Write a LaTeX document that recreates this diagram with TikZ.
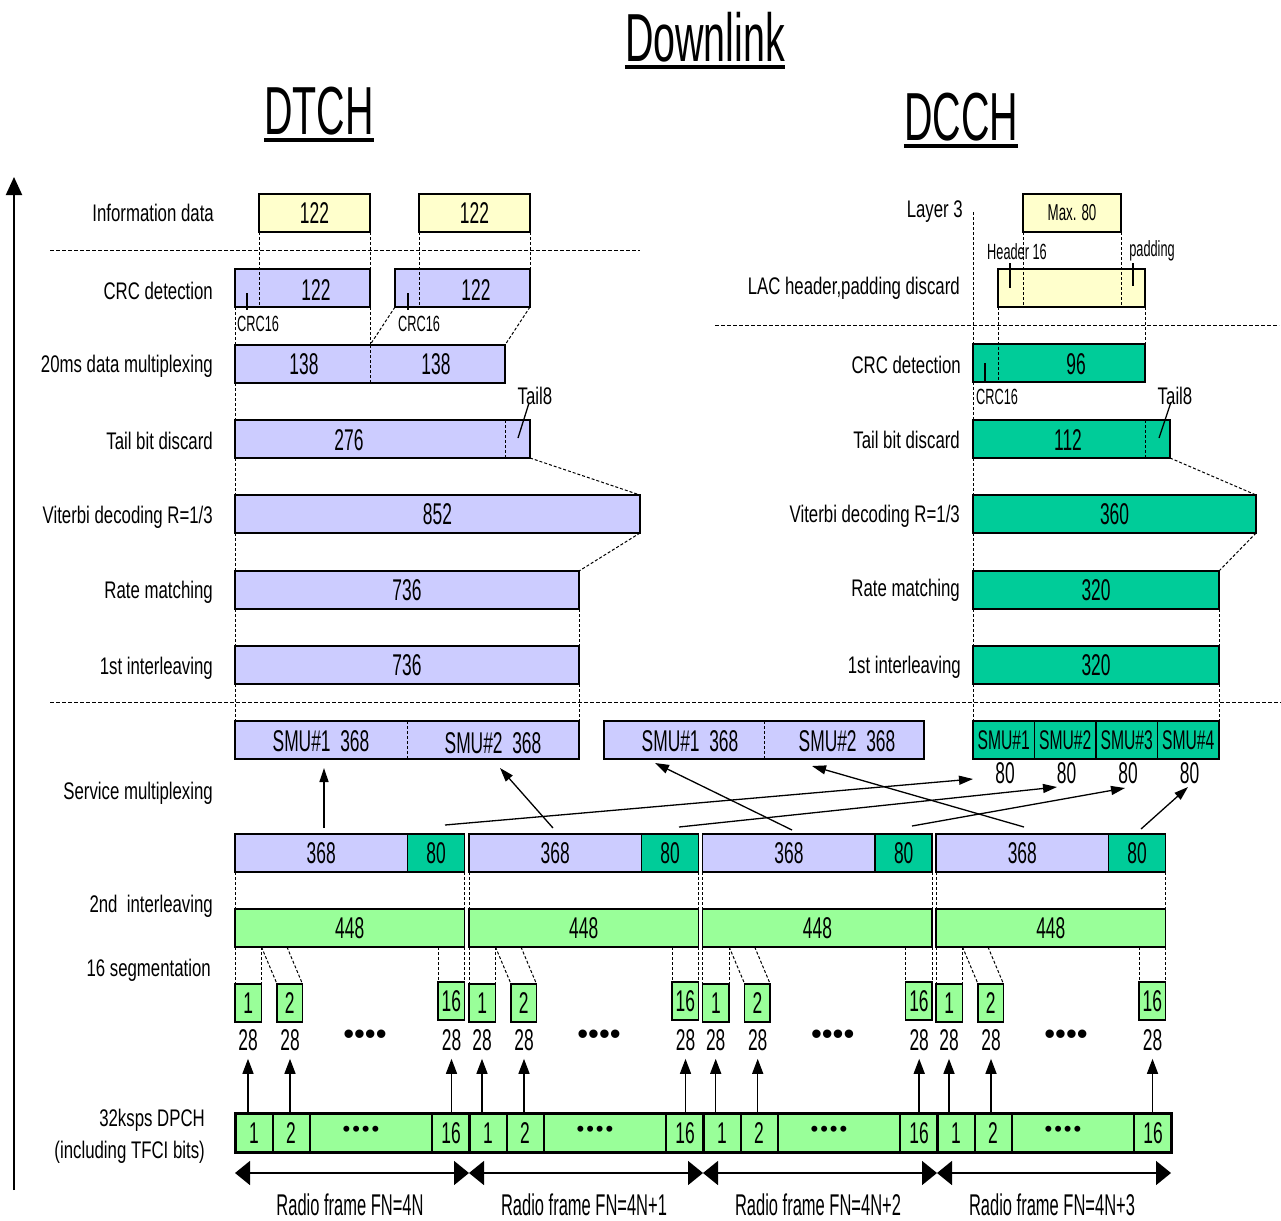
\documentclass[tikz,border=0pt]{standalone}
\usepackage{fontspec}
\setmainfont[FakeStretch=0.7]{Liberation Sans}
\newfontfamily\numfont[FakeStretch=0.58]{Liberation Sans}
\newfontfamily\rffont[FakeStretch=0.55]{Liberation Sans}
\newfontfamily\plainfont{Liberation Sans}
\usetikzlibrary{arrows.meta}
\definecolor{lav}{HTML}{CCCCFF}
\definecolor{ylw}{HTML}{FFFFCC}
\definecolor{tealc}{HTML}{00CC99}
\definecolor{lgrn}{HTML}{99FF99}
\tikzset{
 bx/.style={draw, line width=1.5pt, inner sep=0pt, outer sep=0pt, anchor=north west, minimum height=38pt, font=\numfont\fontsize{30}{30}\selectfont},
 lavbox/.style={bx, fill=lav},
 ylwbox/.style={bx, fill=ylw},
 tealbox/.style={bx, fill=tealc},
 grnbox/.style={bx, fill=lgrn},
 dpbox/.style={draw, line width=3pt, fill=lgrn, inner sep=0pt, outer sep=0pt, anchor=north west, minimum height=39pt, minimum width=234pt},
 lbl/.style={anchor=east, inner sep=0pt, font=\fontsize{24}{26}\selectfont},
 num/.style={inner sep=0pt, font=\numfont\fontsize{30}{30}\selectfont},
 smallt/.style={inner sep=0pt, font=\numfont\fontsize{22}{24}\selectfont},
 guide/.style={line width=1pt, dash pattern=on 3pt off 2pt},
 sepline/.style={line width=1pt, dash pattern=on 3.5pt off 2.5pt},
 ttl/.style={inner sep=0pt, anchor=base, font=\numfont\fontsize{68}{70}\selectfont},
 arr/.style={line width=1.3pt, -{Triangle[length=14pt,width=9pt]}},
 uparr/.style={line width=1.5pt, -{Triangle[length=15pt,width=11pt]}},
 rfarr/.style={line width=1.5pt, {Triangle[length=15pt,width=24pt]}-{Triangle[length=15pt,width=24pt]}},
 tick/.style={line width=1.3pt},
}
\begin{document}
\begin{tikzpicture}[x=1pt,y=-1pt]
\useasboundingbox[fill=white] (0,0) rectangle (1281,1220);

% ---------- titles ----------
\node[ttl] (dl) at (705,62) {Downlink};
\draw[line width=4pt] ([yshift=-5pt]dl.base west) -- ([yshift=-5pt]dl.base east);
\node[ttl] (dtch) at (319,134) {DTCH};
\draw[line width=4pt] ([yshift=-6pt]dtch.base west) -- ([yshift=-6pt]dtch.base east);
\node[ttl] (dcch) at (961,140) {DCCH};
\draw[line width=4pt] ([yshift=-6pt]dcch.base west) -- ([yshift=-6pt]dcch.base east);

% ---------- main axis ----------
\coordinate (axb) at (14,1190);
\coordinate (axt) at (14,177);
\draw[line width=2pt, -{Triangle[length=18pt,width=16pt]}] (axb) -- (axt);

% ---------- separators ----------
\draw[sepline] (50,250) -- (640,250);
\draw[sepline] (715,325) -- (1279,325);
\draw[sepline] (50,702) -- (1281,702);

% ---------- left labels ----------
\node[lbl] at (214,213) {Information data};
\node[lbl] at (213,291) {CRC detection};
\node[lbl] at (213,366) {20ms data multiplexing};
\node[lbl] at (213,441) {Tail bit discard};
\node[lbl] at (213,517) {Viterbi decoding R=1/3};
\node[lbl] at (213,592) {Rate matching};
\node[lbl] at (213,668) {1st interleaving};
\node[lbl] at (213,793) {Service multiplexing};
\node[lbl] at (213,906) {2nd\ \ interleaving};
\node[lbl] at (211,970) {16 segmentation};
\node[lbl] at (205,1120) {32ksps DPCH};
\node[lbl] at (205,1152) {(including TFCI bits)};

% ---------- right labels ----------
\node[lbl] at (963,212) {Layer 3};
\node[lbl] at (960,288) {LAC header,padding discard};
\node[lbl] at (961,365) {CRC detection};
\node[lbl] at (960,440) {Tail bit discard};
\node[lbl] at (960,516) {Viterbi decoding R=1/3};
\node[lbl] at (960,590) {Rate matching};
\node[lbl] at (961,667) {1st interleaving};

% ================= DTCH =================
\node[ylwbox, minimum width=111pt] (inf1) at (259,194) {122};
\node[ylwbox, minimum width=111pt] (inf2) at (419,194) {122};

\node[lavbox, minimum width=135pt] (crc1) at (235,269) {};
\node[num] at (316,290) {122};
\node[lavbox, minimum width=135pt] (crc2) at (395,269) {};
\node[num] at (476,290) {122};
\draw[guide] (inf1.south west) -- (inf1.south west |- crc1.south);
\draw[guide] (inf1.south east) -- (inf1.south east |- crc1.north);
\draw[guide] (inf2.south west) -- (inf2.south west |- crc2.south);
\draw[guide] (inf2.south east) -- (inf2.south east |- crc2.north);
\draw[tick] (247,293) -- (247,310);
\draw[tick] (408,293) -- (408,310);
\node[smallt, anchor=north west] at (237,316) {CRC16};
\node[smallt, anchor=north west] at (398,316) {CRC16};

\node[lavbox, minimum width=270pt] (mux) at (235,345) {};
\node[num] at (304,364) {138};
\node[num] at (436,364) {138};
\draw[guide] (370,345) -- (370,383);
\draw[guide] (crc1.south west) -- (mux.north west);
\draw[guide] (crc1.south east) -- (crc1.south east |- mux.north);
\draw[guide] (crc2.south west) -- (crc1.south east |- mux.north);
\draw[guide] (crc2.south east) -- (mux.north east);

\node[lavbox, minimum width=295pt] (tail) at (235,420) {};
\node[num] at (349,440) {276};
\draw[guide] (505,420) -- (505,458);
\draw[guide] (mux.south west) -- (tail.north west);
\node[inner sep=0pt, font=\fontsize{24}{26}\selectfont] at (535,396) {Tail8};
\draw[tick] (529,403) -- (518,438);

\node[lavbox, minimum width=405pt] (vit) at (235,495) {852};
\draw[guide] (tail.south west) -- (vit.north west);
\draw[guide] (tail.south east) -- (vit.north east);

\node[lavbox, minimum width=344pt] (rm) at (235,571) {736};
\draw[guide] (vit.south west) -- (rm.north west);
\draw[guide] (vit.south east) -- (rm.north east);

\node[lavbox, minimum width=344pt] (il) at (235,646) {736};
\draw[guide] (rm.south west) -- (il.north west);
\draw[guide] (rm.south east) -- (il.north east);

\node[lavbox, minimum width=344pt] (smuA) at (235,721) {};
\draw[guide] (407,721) -- (407,759);
\node[num] at (321,741) {SMU\#1\ \ 368};
\node[num] at (493,743) {SMU\#2\ \ 368};
\draw[guide] (il.south west) -- (smuA.north west);
\draw[guide] (il.south east) -- (smuA.north east);

\node[lavbox, minimum width=320pt] (smuB) at (604,721) {};
\draw[guide] (764,721) -- (764,759);
\node[num] at (690,741) {SMU\#1\ \ 368};
\node[num] at (847,741) {SMU\#2\ \ 368};

% ================= DCCH =================
\node[ylwbox, minimum width=98pt, font=\numfont\fontsize{23}{23}\selectfont] (l3) at (1023,194) {Max. 80};
\node[ylwbox, minimum width=147pt] (lac) at (998,269) {};
\draw[guide] (l3.south west) -- (l3.south west |- lac.south);
\draw[guide] (l3.south east) -- (l3.south east |- lac.south);
\draw[tick] (1010,263) -- (1010,288);
\draw[tick] (1133,263) -- (1133,286);
\node[smallt] at (1017,252) {Header 16};
\node[smallt] at (1152,251) {padding};

\node[tealbox, minimum width=172pt] (crcD) at (973,344) {};
\node[num] at (1076,364) {96};
\draw[guide] (lac.south west) -- (lac.south west |- crcD.south);
\draw[guide] (lac.south east) -- (crcD.north east);
\draw[tick] (985,363) -- (985,382);
\node[smallt, anchor=north west] at (976,389) {CRC16};
\coordinate (dtop) at (973,212);
\draw[guide] (dtop) -- (crcD.north west);

\node[tealbox, minimum width=197pt] (tailD) at (973,420) {};
\node[num] at (1068,440) {112};
\draw[guide] (1145,420) -- (1145,457);
\draw[guide] (crcD.south west) -- (tailD.north west);
\node[inner sep=0pt, font=\fontsize{24}{26}\selectfont] at (1175,396) {Tail8};
\draw[tick] (1171,402) -- (1159,438);

\node[tealbox, minimum width=283pt] (vitD) at (973,495) {360};
\draw[guide] (tailD.south west) -- (vitD.north west);
\draw[guide] (tailD.south east) -- (vitD.north east);

\node[tealbox, minimum width=246pt] (rmD) at (973,571) {320};
\draw[guide] (vitD.south west) -- (rmD.north west);
\draw[guide] (vitD.south east) -- (rmD.north east);

\node[tealbox, minimum width=246pt] (ilD) at (973,646) {320};
\draw[guide] (rmD.south west) -- (ilD.north west);
\draw[guide] (rmD.south east) -- (ilD.north east);

\foreach \i/\xs in {1/973,2/1034.5,3/1096,4/1157.5}{
  \node[tealbox, minimum width=61.5pt, font=\numfont\fontsize{27}{27}\selectfont] (smuD\i) at (\xs,721) {SMU\#\i};
  \node[num] (e\i) at (\xs+32,773) {80};
}
\draw[guide] (ilD.south west) -- (smuD1.north west);
\draw[guide] (ilD.south east) -- (smuD4.north east);

% ================= frames =================
\foreach \k/\xo/\xd/\lab in {1/235/235/4N, 2/469/469/4N+1, 3/702.7/703/4N+2, 4/936/937/4N+3}{
  \node[lavbox, minimum width=172.5pt] (fa\k) at (\xo,834) {368};
  \node[tealbox, minimum width=57pt] (fb\k) at (\xo+172.5,834) {80};
  \node[grnbox, minimum width=229.5pt] (g\k) at (\xo,909) {448};
  \draw[guide] (fa\k.south west) -- (g\k.north west);
  \draw[guide] (fb\k.south east) -- (g\k.north east);
  \node[grnbox, minimum width=26.5pt] (sa\k) at (\xo,984) {1};
  \node[grnbox, minimum width=25.5pt] (sb\k) at (\xo+42,984) {2};
  \node[grnbox, minimum width=26.5pt] (sc\k) at (\xo+203,982) {16};
  \draw[guide] (g\k.south west) -- (sa\k.north west);
  \draw[guide] (sa\k.north east |- g\k.south) -- (sa\k.north east);
  \draw[guide] (sa\k.north east |- g\k.south) -- (sb\k.north west);
  \draw[guide] ([xshift=52pt]g\k.south west) -- (sb\k.north east);
  \draw[guide] (sc\k.north west |- g\k.south) -- (sc\k.north west);
  \draw[guide] (g\k.south east) -- (sc\k.north east);
  \node[num] (na\k) at (\xo+13,1040) {28};
  \node[num] (nb\k) at (\xo+55,1040) {28};
  \node[num] (nc\k) at (\xo+216.5,1040) {28};
  \node[inner sep=0pt, font=\plainfont\fontsize{31}{31}\selectfont] at (\xo+130,1037) {••••};
  % DPCH
  \node[dpbox] (d\k) at (\xd,1113) {};
  \draw[line width=1.3pt] ([xshift=38pt]d\k.north west) -- ([xshift=38pt]d\k.south west);
  \draw[line width=1.3pt] ([xshift=75pt]d\k.north west) -- ([xshift=75pt]d\k.south west);
  \draw[line width=1.3pt] ([xshift=-37pt]d\k.north east) -- ([xshift=-37pt]d\k.south east);
  \node[num] at (\xd+19,1133) {1};
  \node[num] at (\xd+56,1133) {2};
  \node[num] at (\xd+216,1133) {16};
  \node[inner sep=0pt, font=\plainfont\fontsize{22}{22}\selectfont] at (\xd+126,1131) {•\kern2pt•\kern2pt•\kern2pt•};
  \draw[uparr] (na\k |- d\k.north) -- ([yshift=-8pt]na\k.south);
  \draw[uparr] (nb\k |- d\k.north) -- ([yshift=-8pt]nb\k.south);
  \draw[uparr] (nc\k |- d\k.north) -- ([yshift=-8pt]nc\k.south);
  \coordinate (rl\k) at (\xd,1173);
  \coordinate (rr\k) at (\xd+234,1173);
  \draw[rfarr] (rl\k) -- (rr\k);
  \node[inner sep=0pt, font=\rffont\fontsize{30}{30}\selectfont] at (\xd+115,1205) {Radio frame FN=\lab};
}

% ---------- service multiplexing arrows ----------
\coordinate (m1s) at (324,828);  \coordinate (m1e) at (324,768);
\coordinate (m2s) at (553,828);  \coordinate (m2e) at (500,768);
\coordinate (m3s) at (792,830);  \coordinate (m3e) at (655,763);
\coordinate (m4s) at (1024,827); \coordinate (m4e) at (812,766);
\coordinate (m5s) at (445,825);  \coordinate (m5e) at (973,779);
\coordinate (m6s) at (679,827);  \coordinate (m6e) at (1057,787);
\coordinate (m7s) at (912,826);  \coordinate (m7e) at (1125,788);
\coordinate (m8s) at (1141,829); \coordinate (m8e) at (1188,787);
\foreach \m in {1,...,8}{ \draw[arr] (m\m s) -- (m\m e); }
\end{tikzpicture}
\end{document}
